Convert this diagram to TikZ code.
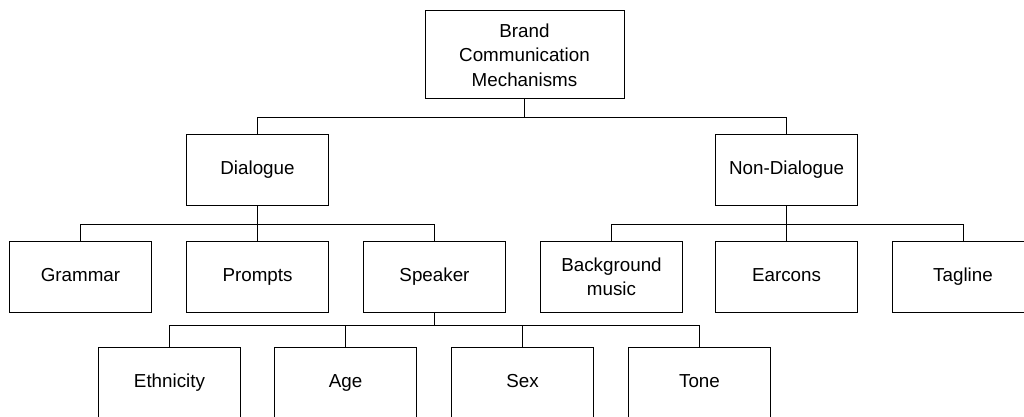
\documentclass[tikz,border=0pt]{standalone}
\usepackage{fontspec}
\setmainfont{Liberation Sans}
\usepackage{tikz}
\usetikzlibrary{positioning}

\begin{document}
\begin{tikzpicture}[x=1pt, y=-1pt, line width=1pt]
    \fontsize{18.8}{24.5}\selectfont

    % Shapes
    \tikzstyle{box}=[rectangle, draw, fill=white, minimum width=142pt, minimum height=71pt, align=center, inner sep=2pt]
    \tikzstyle{word}=[box, text height=13pt, text depth=4pt]
    \tikzstyle{link}=[draw, line width=1pt]

    \useasboundingbox (0,0) rectangle (1024,417);

    % Root
    \node[box, minimum width=199pt, minimum height=88pt] at (524.5,55) (root) {Brand\\Communication\\Mechanisms};

    % Level 1
    \node[word] at (257.5,169.5) (dialogue) {Dialogue};
    \node[word] at (786.5,169.5) (nonDialogue) {Non-Dialogue};

    % Level 2
    \node[word] at (80.5,277) (grammar) {Grammar};
    \node[word] at (257.5,277) (prompts) {Prompts};
    \node[word] at (434.5,277) (speaker) {Speaker};
    \node[box] at (611.5,277) (music) {Background\\music};
    \node[word] at (786.5,277) (earcons) {Earcons};
    \node[word] at (963,277) (tagline) {Tagline};

    % Level 3
    \node[word] at (169.5,382.5) (ethnicity) {Ethnicity};
    \node[word] at (345.5,382.5) (age) {Age};
    \node[word] at (522.5,382.5) (sex) {Sex};
    \node[word] at (699.5,382.5) (tone) {Tone};

    % Connectors
    \draw[link] (root.south) -- ++(0,18) -| (dialogue.north);
    \draw[link] (root.south) -- ++(0,18) -| (nonDialogue.north);

    \draw[link] (dialogue.south) -- ++(0,19) -| (grammar.north);
    \draw[link] (dialogue.south) -- (prompts.north);
    \draw[link] (dialogue.south) -- ++(0,19) -| (speaker.north);

    \draw[link] (nonDialogue.south) -- ++(0,19) -| (music.north);
    \draw[link] (nonDialogue.south) -- (earcons.north);
    \draw[link] (nonDialogue.south) -- ++(0,19) -| (tagline.north);

    \draw[link] (speaker.south) -- ++(0,12) -| (ethnicity.north);
    \draw[link] (speaker.south) -- ++(0,12) -| (age.north);
    \draw[link] (speaker.south) -- ++(0,12) -| (sex.north);
    \draw[link] (speaker.south) -- ++(0,12) -| (tone.north);
\end{tikzpicture}
\end{document}
